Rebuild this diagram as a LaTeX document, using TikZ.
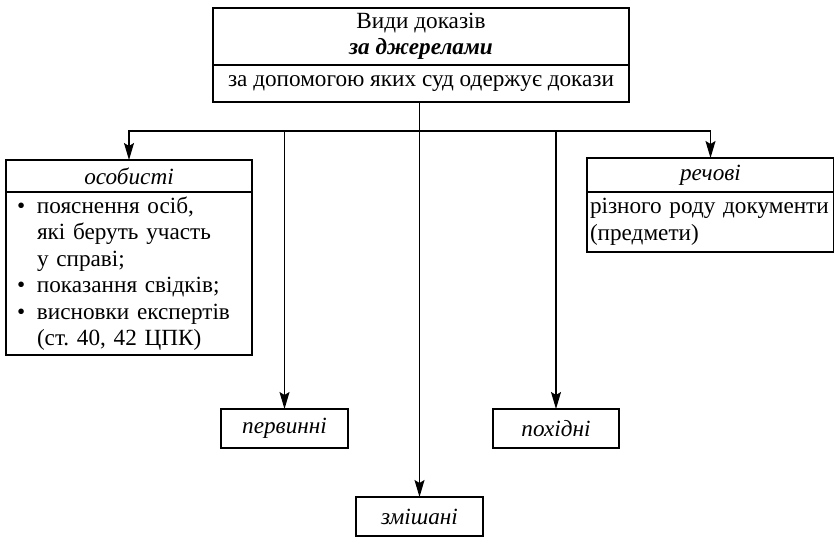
\documentclass[tikz,border=0pt]{standalone}
\usepackage{fontspec}
\setmainfont{Liberation Serif}
\usetikzlibrary{arrows.meta}
\newcommand\bul{\makebox[20pt][l]{•}}
\newcommand\ind{\hspace*{20pt}}
\frenchspacing
\begin{document}
\begin{tikzpicture}[x=1pt,y=-1pt,
  box/.style={draw, line width=1.3pt, inner sep=0pt, outer sep=0pt, anchor=north west},
  conn/.style={line width=1.3pt},
  arr/.style={conn, -{Stealth[length=17pt,width=10pt,inset=3pt]}},
  font=\fontsize{23.2}{26.5}\selectfont]
\useasboundingbox (0,0) rectangle (834,537);
\node[box, minimum width=416pt, minimum height=57pt, align=center] (topA) at (213,8)
  {Види доказів\\\textbf{\textit{за джерелами}}};
\node[box, minimum width=416pt, minimum height=37pt] (topB) at (213,65)
  {за допомогою яких суд одержує докази};
\coordinate (hub) at (419,131);
\node[box, minimum width=246pt, minimum height=32pt] (lh) at (6,160) {\textit{особисті}};
\node[box, minimum width=246pt, minimum height=163pt, inner xsep=11pt, text width=224pt, align=left] (lb) at (6,192)
  {\bul пояснення осіб,\\\ind які беруть участь\\\ind у справі;\\\bul показання свідків;\\\bul висновки експертів\\\ind (ст. 40, 42 ЦПК)};
\node[box, minimum width=247pt, minimum height=34pt] (rh) at (587,158) {\textit{речові}};
\node[box, minimum width=247pt, minimum height=60pt, inner xsep=3pt, text width=241pt, align=left] (rb) at (587,192)
  {різного роду документи\\(предмети)};
\node[box, minimum width=127pt, minimum height=39pt] (prim) at (221,409) {\textit{первинні}};
\node[box, minimum width=126pt, minimum height=39pt] (der) at (493,409) {\textit{похідні}};
\node[box, minimum width=127pt, minimum height=39pt] (mix) at (356,497) {\textit{змішані}};
\draw[arr] (topB.south -| mix.north) -- (mix.north);
\draw[arr] (hub) -| (lh.north);
\draw[arr] (hub) -| (rh.north);
\draw[arr] (hub -| prim.north) -- (prim.north);
\draw[arr] (hub -| der.north) -- (der.north);
\end{tikzpicture}
\end{document}
